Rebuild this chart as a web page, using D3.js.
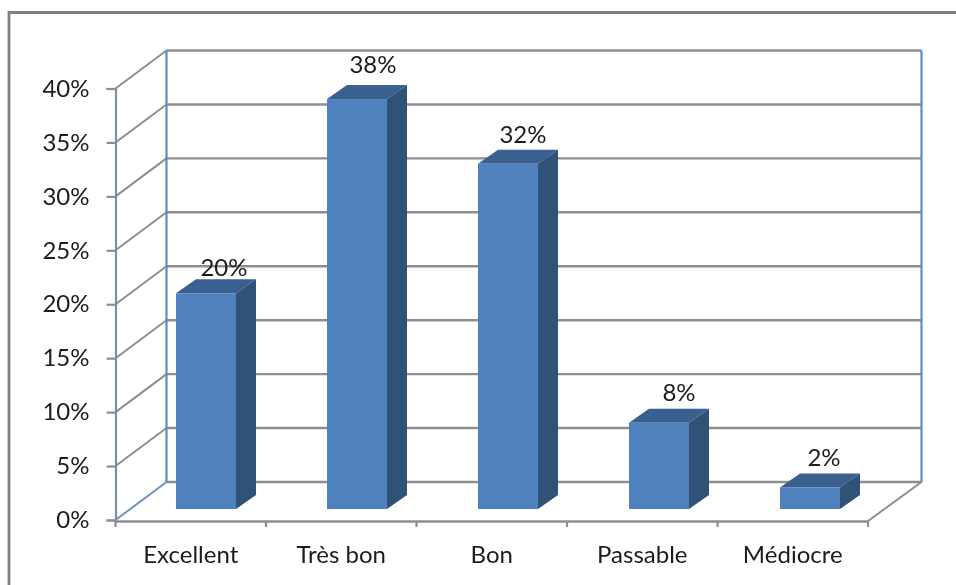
<!DOCTYPE html>
<html>
<head>
<meta charset="utf-8">
<script src="https://cdn.jsdelivr.net/npm/d3@7"></script>
<style>
  html, body { margin: 0; padding: 0; background: #fff; }
  svg { display: block; filter: blur(0.45px); }
  text { font-family: Lato, "Open Sans", sans-serif; fill: #1c1c1c; }
</style>
</head>
<body>
<div id="chart"></div>
<script>
var categories = ["Excellent", "Très bon", "Bon", "Passable", "Médiocre"];
var values = [20, 38, 32, 8, 2];
var yTicks = [0, 5, 10, 15, 20, 25, 30, 35, 40];

var width = 956,
    height = 585;

// 3d offsets: wall depth and bar depth
var wallDx = 51, wallDy = -38;
var backRight = 921.5;
var barDx = 20, barDy = -14;
var floorDy = -11;

// the data labels were not placed evenly in the picture
var labelNudgeX = [18, 16, 15, 20, 14];
var labelNudgeY = [0, -9, -4, -5, -4];

var svg = d3.select("#chart").append("svg")
    .attr("width", width)
    .attr("height", height);

// outer frame, only top and left show in the picture
svg.append("path")
    .attr("d", d3.line()([[9, 585], [9, 12.5], [956, 12.5]]))
    .attr("fill", "none")
    .attr("stroke", "#808080")
    .attr("stroke-width", 2.8);

var x = d3.scaleBand()
    .domain(categories)
    .range([115.5, 868]);

var y = d3.scaleLinear()
    .domain([0, 40])
    .range([520, 88.5]);

var grid = svg.append("g");

// back wall lines and the diagonals on the left wall
yTicks.forEach(function(t) {
  grid.append("line")
      .attr("x1", x.range()[0] + wallDx).attr("x2", backRight)
      .attr("y1", y(t) + wallDy).attr("y2", y(t) + wallDy)
      .attr("stroke", "#8e8e8e").attr("stroke-width", 2.4);
  grid.append("line")
      .attr("x1", x.range()[0]).attr("x2", x.range()[0] + wallDx)
      .attr("y1", y(t)).attr("y2", y(t) + wallDy)
      .attr("stroke", t == 0 ? "#6f93c0" : "#8e8e8e").attr("stroke-width", 2);
});

// blue uprights at the back
[x.range()[0] + wallDx, backRight].forEach(function(px) {
  grid.append("line")
      .attr("x1", px).attr("x2", px)
      .attr("y1", y(40) + wallDy).attr("y2", y(0) + wallDy)
      .attr("stroke", "#5a8ccb").attr("stroke-width", 2.2);
});

// right edge of the floor
grid.append("line")
    .attr("x1", x.range()[1]).attr("x2", backRight)
    .attr("y1", y(0) + 1).attr("y2", y(0) + wallDy)
    .attr("stroke", "#8e8e8e").attr("stroke-width", 2);

// axes
var yAxis = svg.append("g")
    .attr("transform", "translate(" + x.range()[0] + ",0)")
    .call(d3.axisLeft(y).tickValues(yTicks).tickSize(9).tickPadding(17).tickFormat(function(d) { return d + "%"; }));

yAxis.select(".domain").attr("stroke", "#7f8fa3").attr("stroke-width", 2.2);
yAxis.selectAll("line").attr("stroke", "#8e8e8e").attr("stroke-width", 2.2);
yAxis.selectAll("text").attr("font-size", 24);

var xAxis = svg.append("g")
    .attr("transform", "translate(0," + (y(0) + 1) + ")")
    .call(d3.axisBottom(x).tickSize(0).tickPadding(25));

xAxis.select(".domain").attr("stroke", "#8e8e8e").attr("stroke-width", 2.4);
xAxis.selectAll("text").attr("font-size", 24);

// ticks between the categories
xAxis.selectAll(".sep").data(d3.range(categories.length + 1)).enter().append("line")
    .attr("class", "sep")
    .attr("x1", function(i) { return x.range()[0] + i * x.bandwidth(); })
    .attr("x2", function(i) { return x.range()[0] + i * x.bandwidth(); })
    .attr("y1", 0).attr("y2", 6)
    .attr("stroke", "#8e8e8e").attr("stroke-width", 2.2);

// bars
var barW = 60;
var bars = svg.selectAll(".bar").data(values).enter().append("g").attr("class", "bar");

function barLeft(i) { return x(categories[i]) + 60.5 + i * 0.5; }
function barTop(d) { return y(d) + floorDy; }
var barBottom = y(0) + floorDy;

bars.append("polygon")
    .attr("fill", "#3a6090")
    .attr("points", function(d, i) {
      var l = barLeft(i), t = barTop(d);
      return [[l, t], [l + barDx, t + barDy], [l + barW + barDx, t + barDy], [l + barW, t]].join(" ");
    });

bars.append("polygon")
    .attr("fill", "#315277")
    .attr("points", function(d, i) {
      var r = barLeft(i) + barW, t = barTop(d);
      return [[r, t], [r + barDx, t + barDy], [r + barDx, barBottom + barDy], [r, barBottom]].join(" ");
    });

bars.append("rect")
    .attr("x", function(d, i) { return barLeft(i); })
    .attr("y", function(d) { return barTop(d); })
    .attr("width", barW)
    .attr("height", function(d) { return barBottom - barTop(d); })
    .attr("fill", "#4f81bd");

bars.append("text")
    .attr("x", function(d, i) { return barLeft(i) + barW / 2 + labelNudgeX[i]; })
    .attr("y", function(d, i) { return barTop(d) + barDy - 3 + labelNudgeY[i]; })
    .attr("text-anchor", "middle")
    .attr("font-size", 24)
    .text(function(d) { return d + "%"; });
</script>
</body>
</html>
